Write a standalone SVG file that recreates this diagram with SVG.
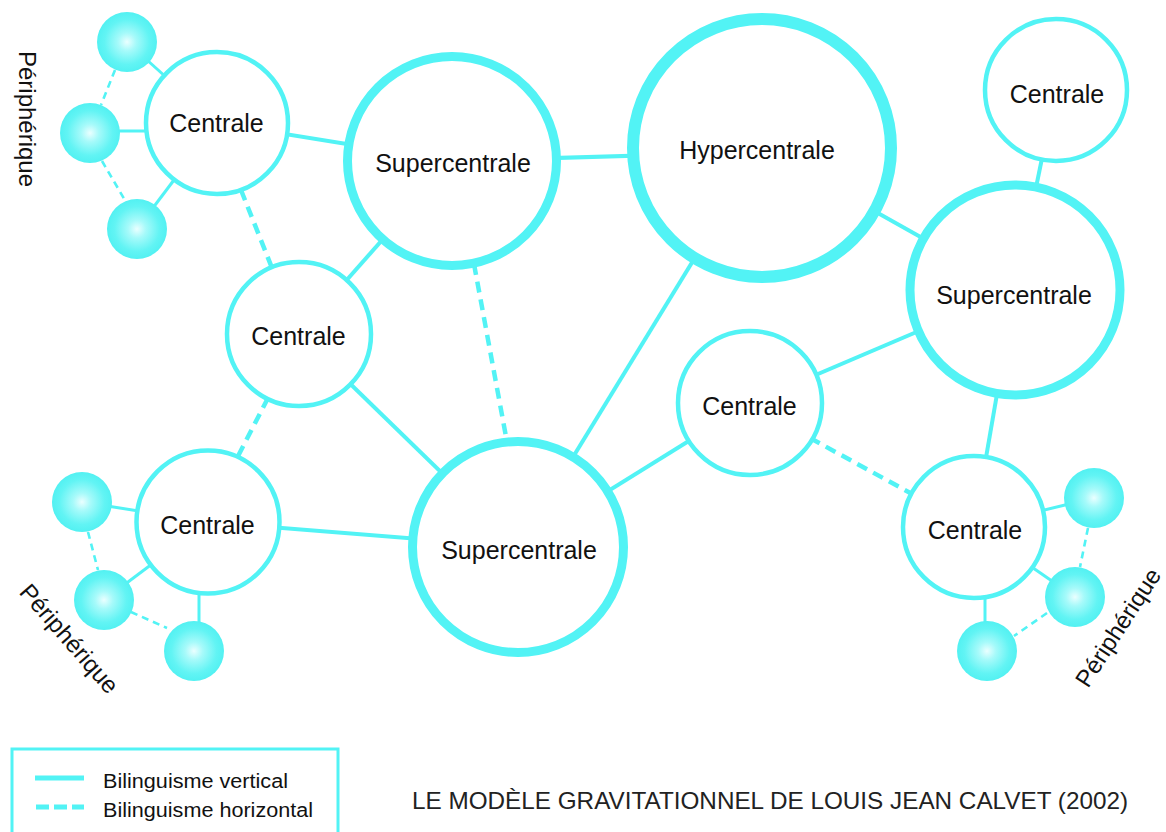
<svg xmlns="http://www.w3.org/2000/svg" width="1166" height="832" viewBox="0 0 1166 832">
<defs>
<radialGradient id="ball" cx="50%" cy="50%" r="50%">
<stop offset="0" stop-color="#eaffff"/>
<stop offset="0.3" stop-color="#a6fafa"/>
<stop offset="0.75" stop-color="#62f4f4"/>
<stop offset="1" stop-color="#52f1f2"/>
</radialGradient>
</defs>
<style>
.c{stroke:#52f3f5;fill:none;stroke-linecap:butt}
.s{stroke-width:4}
.d{stroke-width:4.5;stroke-dasharray:11 7}
.ps{stroke-width:3}
.pd{stroke-width:2.6;stroke-dasharray:7 5}
.node{fill:#ffffff;stroke:#52f3f5}
.cen{stroke-width:4.5}
.sup{stroke-width:9}
.hyp{stroke-width:12}
.ball{fill:url(#ball);stroke:none}
.t{font-family:"Liberation Sans",Arial,Helvetica,sans-serif;fill:#111;text-anchor:middle;font-size:25px}
.p{font-family:"Liberation Sans",Arial,Helvetica,sans-serif;fill:#111;text-anchor:middle;font-size:24px}
.l{font-family:"Liberation Sans",Arial,Helvetica,sans-serif;fill:#111;font-size:20px}
</style>
<rect width="1166" height="832" fill="#ffffff"/>
<g id="connectors">
<line class="c s" x1="217" y1="123" x2="452" y2="161"/>
<line class="c s" x1="452" y1="161" x2="762" y2="152"/>
<line class="c s" x1="452" y1="161" x2="299" y2="334"/>
<line class="c s" x1="299" y1="334" x2="518" y2="547"/>
<line class="c s" x1="762" y1="148" x2="518" y2="547"/>
<line class="c s" x1="762" y1="148" x2="1015" y2="290"/>
<line class="c s" x1="1056" y1="90" x2="1015" y2="290"/>
<line class="c s" x1="1015" y1="290" x2="750" y2="403"/>
<line class="c s" x1="750" y1="403" x2="518" y2="547"/>
<line class="c s" x1="1015" y1="290" x2="974" y2="527"/>
<line class="c s" x1="208" y1="522" x2="518" y2="547"/>
<line class="c d" x1="241" y1="190" x2="272" y2="268"/>
<line class="c d" x1="474" y1="264" x2="507" y2="442"/>
<line class="c d" x1="268" y1="398" x2="236" y2="460"/>
<line class="c d" x1="810" y1="438" x2="914" y2="495"/>
<line class="c ps" x1="127" y1="42" x2="217" y2="123"/>
<line class="c ps" x1="90" y1="131" x2="217" y2="131"/>
<line class="c ps" x1="137" y1="229" x2="217" y2="123"/>
<line class="c ps" x1="82" y1="502" x2="208" y2="522"/>
<line class="c ps" x1="104" y1="600" x2="208" y2="522"/>
<line class="c ps" x1="199" y1="651" x2="199" y2="560"/>
<line class="c ps" x1="1094" y1="498" x2="974" y2="527"/>
<line class="c ps" x1="1075" y1="597" x2="974" y2="527"/>
<line class="c ps" x1="985" y1="651" x2="985" y2="560"/>
<line class="c pd" x1="115" y1="70" x2="101" y2="105"/>
<line class="c pd" x1="102" y1="161" x2="126" y2="202"/>
<line class="c pd" x1="88" y1="532" x2="98" y2="570"/>
<line class="c pd" x1="131" y1="612" x2="167" y2="628"/>
<line class="c pd" x1="1088" y1="528" x2="1080" y2="567"/>
<line class="c pd" x1="1047" y1="613" x2="1014" y2="636"/>
</g>
<g id="ball-tl-1"><circle class="ball" cx="127" cy="42" r="30"/></g>
<g id="ball-tl-2"><circle class="ball" cx="90" cy="133" r="30"/></g>
<g id="ball-tl-3"><circle class="ball" cx="137" cy="229" r="30"/></g>
<g id="ball-bl-1"><circle class="ball" cx="82" cy="502" r="30"/></g>
<g id="ball-bl-2"><circle class="ball" cx="104" cy="600" r="30"/></g>
<g id="ball-bl-3"><circle class="ball" cx="194" cy="651" r="30"/></g>
<g id="ball-br-1"><circle class="ball" cx="1094" cy="498" r="30"/></g>
<g id="ball-br-2"><circle class="ball" cx="1075" cy="597" r="30"/></g>
<g id="ball-br-3"><circle class="ball" cx="987" cy="651" r="30"/></g>
<g id="centrale-tl"><circle class="node cen" cx="217" cy="123" r="71"/><text class="t" x="216.5" y="132">Centrale</text></g>
<g id="centrale-mid"><circle class="node cen" cx="299" cy="334" r="72"/><text class="t" x="298.5" y="345">Centrale</text></g>
<g id="centrale-bl"><circle class="node cen" cx="208" cy="522" r="71.5"/><text class="t" x="207.5" y="534">Centrale</text></g>
<g id="centrale-mr"><circle class="node cen" cx="750" cy="403" r="72"/><text class="t" x="749.5" y="415">Centrale</text></g>
<g id="centrale-br"><circle class="node cen" cx="974" cy="527" r="71"/><text class="t" x="975" y="539">Centrale</text></g>
<g id="centrale-tr"><circle class="node cen" cx="1056" cy="90" r="71"/><text class="t" x="1057" y="103">Centrale</text></g>
<g id="supercentrale-top"><circle class="node sup" cx="452" cy="161" r="104.5"/><text class="t" x="453" y="172">Supercentrale</text></g>
<g id="supercentrale-bottom"><circle class="node sup" cx="518" cy="547" r="105.5"/><text class="t" x="519" y="559">Supercentrale</text></g>
<g id="supercentrale-right"><circle class="node sup" cx="1015" cy="290" r="105"/><text class="t" x="1014" y="304">Supercentrale</text></g>
<g id="hypercentrale"><circle class="node hyp" cx="762" cy="148" r="129"/><text class="t" x="757" y="159">Hypercentrale</text></g>
<g id="labels">
<text class="p" transform="translate(19,119) rotate(90)">Périphérique</text>
<text class="p" transform="translate(63,644) rotate(49)">Périphérique</text>
<text class="p" transform="translate(1125,632) rotate(-57)">Périphérique</text>
</g>
<g id="legend">
<rect x="12" y="749" width="326" height="100" fill="none" stroke="#52f3f5" stroke-width="3"/>
<line x1="35" y1="778" x2="84" y2="778" stroke="#52f3f5" stroke-width="5"/>
<line x1="36" y1="807" x2="84" y2="807" stroke="#52f3f5" stroke-width="5" stroke-dasharray="13 5"/>
<text class="l" x="103" y="788" textLength="185" lengthAdjust="spacingAndGlyphs">Bilinguisme vertical</text>
<text class="l" x="103" y="817" textLength="210" lengthAdjust="spacingAndGlyphs">Bilinguisme horizontal</text>
</g>
<g id="title">
<text x="412" y="809" font-family="Liberation Sans, Arial, sans-serif" font-size="24" fill="#222" textLength="716" lengthAdjust="spacingAndGlyphs">LE MODÈLE GRAVITATIONNEL DE LOUIS JEAN CALVET (2002)</text>
</g>
</svg>
